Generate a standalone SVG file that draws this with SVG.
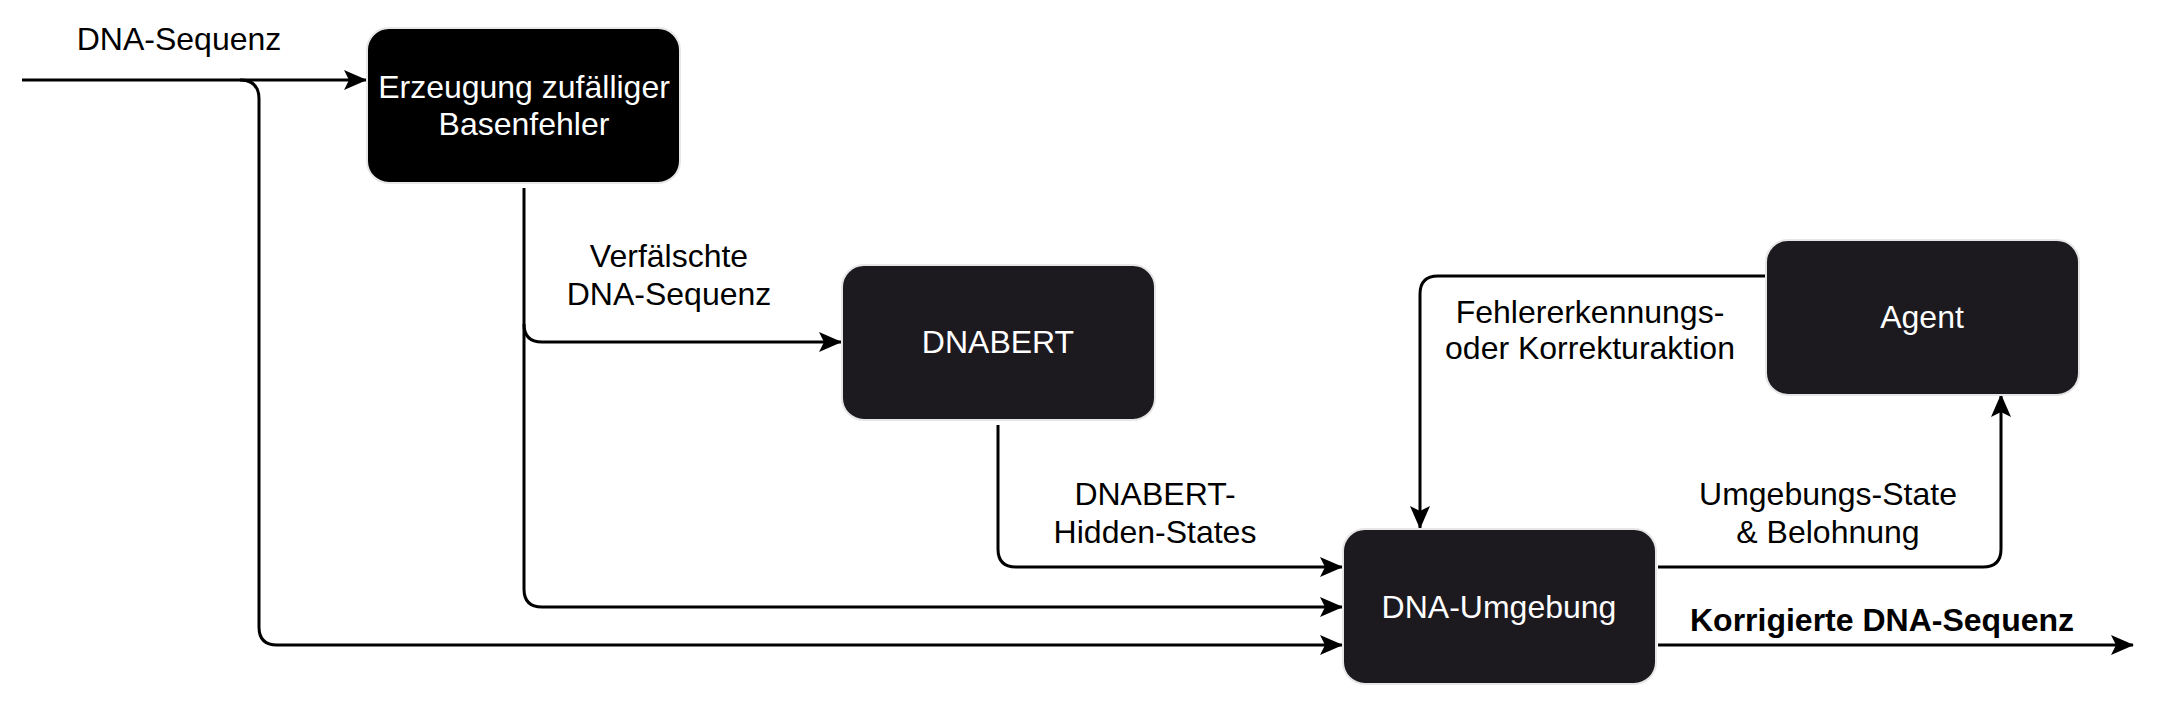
<svg xmlns="http://www.w3.org/2000/svg" width="2162" height="710" viewBox="0 0 2162 710">
<style>
.box{stroke:#e6e6e6;stroke-width:2}
.lbl{font-family:"Liberation Sans",Arial,sans-serif;font-size:32px;fill:#000;text-anchor:middle}
.nt{font-family:"Liberation Sans",Arial,sans-serif;font-size:32px;fill:#fff;text-anchor:middle}
.c{fill:none;stroke:#000;stroke-width:3}
</style>
<defs>
<marker id="ah" markerUnits="userSpaceOnUse" markerWidth="26" markerHeight="22" refX="22" refY="10" orient="auto">
<path d="M0,0 L23,10 L0,20 L5,10 Z" fill="#000"/>
</marker>
</defs>
<rect width="2162" height="710" fill="#fff"/>
<g id="connectors">
<path class="c" d="M22,80 H366" marker-end="url(#ah)"/>
<path class="c" d="M240,80 Q259,80 259,99 V627 Q259,645 277,645 H1342" marker-end="url(#ah)"/>
<path class="c" d="M524,188 V589 Q524,607 542,607 H1342" marker-end="url(#ah)"/>
<path class="c" d="M524,324 Q524,342 542,342 H841" marker-end="url(#ah)"/>
<path class="c" d="M998,425 V549 Q998,567 1016,567 H1342" marker-end="url(#ah)"/>
<path class="c" d="M1766,276 H1438 Q1420,276 1420,294 V528" marker-end="url(#ah)"/>
<path class="c" d="M1658,567 H1983 Q2001,567 2001,549 V395" marker-end="url(#ah)"/>
<path class="c" d="M1658,645 H2133" marker-end="url(#ah)"/>
<text class="lbl" x="179" y="50">DNA-Sequenz</text>
<text class="lbl" x="669" y="267">Verfälschte</text>
<text class="lbl" x="669" y="305">DNA-Sequenz</text>
<text class="lbl" x="1155" y="505">DNABERT-</text>
<text class="lbl" x="1155" y="543">Hidden-States</text>
<text class="lbl" x="1590" y="323">Fehlererkennungs-</text>
<text class="lbl" x="1590" y="359">oder Korrekturaktion</text>
<text class="lbl" x="1828" y="505">Umgebungs-State</text>
<text class="lbl" x="1828" y="543">&amp; Belohnung</text>
<text class="lbl" x="1882" y="631" font-weight="bold">Korrigierte DNA-Sequenz</text>
</g>
<g id="n1">
<rect class="box" x="367" y="28" width="313" height="155" rx="22" fill="#000"/>
<text class="nt" x="524" y="98">Erzeugung zufälliger</text>
<text class="nt" x="524" y="135">Basenfehler</text>
</g>
<g id="n2">
<rect class="box" x="842" y="265" width="313" height="155" rx="22" fill="#1c1a1f"/>
<text class="nt" x="998" y="353">DNABERT</text>
</g>
<g id="n3">
<rect class="box" x="1766" y="240" width="313" height="155" rx="22" fill="#1c1a1f"/>
<text class="nt" x="1922" y="328">Agent</text>
</g>
<g id="n4">
<rect class="box" x="1343" y="529" width="313" height="155" rx="22" fill="#1c1a1f"/>
<text class="nt" x="1499" y="618">DNA-Umgebung</text>
</g>
</svg>
